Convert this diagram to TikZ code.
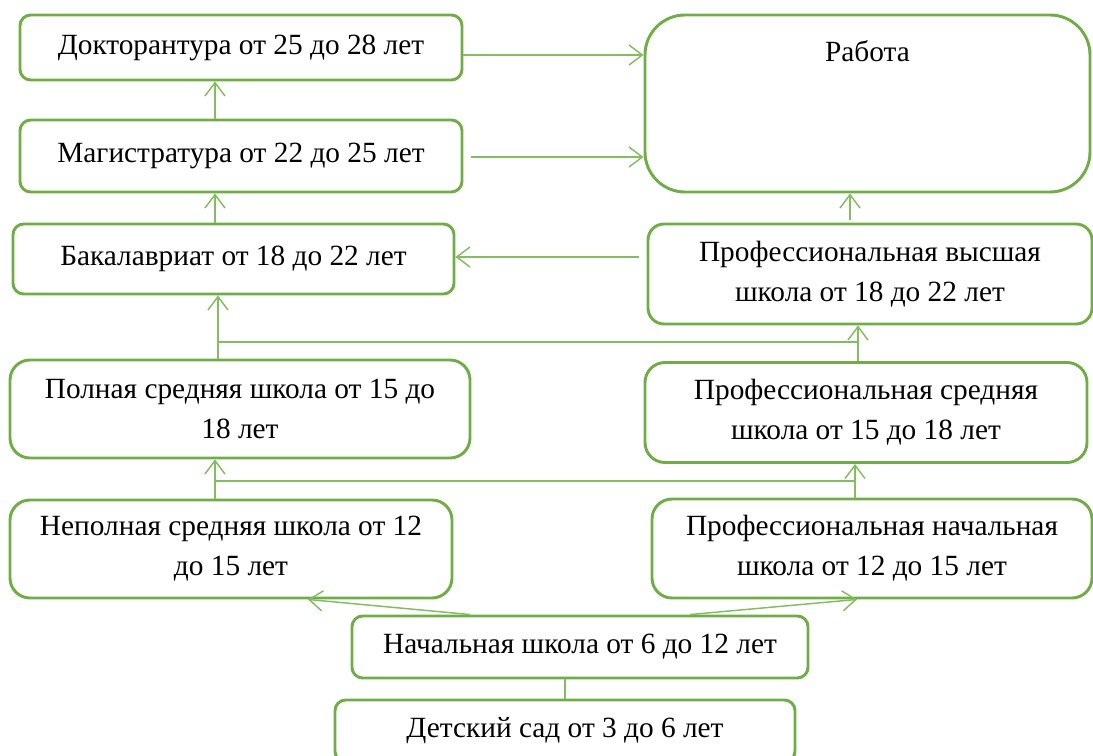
\documentclass[tikz,border=0pt]{standalone}
\usepackage{fontspec}
\setmainfont{Liberation Serif}
\usetikzlibrary{arrows.meta}
\definecolor{boxgreen}{HTML}{70AD47}
\definecolor{linkgreen}{HTML}{82BE5F}
\tikzset{>={Straight Barb[length=10pt,width=15pt]}}
\tikzset{
	box/.style={draw=boxgreen, line width=2.2pt, rounded corners=8pt, align=center, inner sep=0pt, font=\fontsize{22}{30}\selectfont},
	link/.style={draw=linkgreen, line width=1.1pt}
}

\begin{document}
\begin{tikzpicture}[x=0.75pt, y=-0.75pt]
	\useasboundingbox (0,0) rectangle (1093,756);
	% top part
	\node[box, minimum width=331.5pt, minimum height=48.75pt] (dok) at (241,47.5) {Докторантура от 25 до 28 лет};
	\node[box, minimum width=331.5pt, minimum height=54pt] (mag) at (241,156) {Магистратура от 22 до 25 лет};
	\node[box, minimum width=330.75pt, minimum height=52.5pt] (bak) at (233.5,259) {Бакалавриат от 18 до 22 лет};
	\node[box, rounded corners=30pt, minimum width=333.75pt, minimum height=132.75pt,
		label={[anchor=north, inner sep=0pt, yshift=-20pt, font=\fontsize{22}{30}\selectfont]north:Работа}] (rab) at (867.5,103.5) {};
	\node[box, rounded corners=12pt, minimum width=333pt, minimum height=75pt] (pvys) at (870,274) {Профессиональная высшая\\школа от 18 до 22 лет};
	% middle part
	\node[box, rounded corners=15pt, minimum width=345pt, minimum height=73.5pt] (poln) at (240,409) {Полная средняя школа от 15 до\\18 лет};
	\node[box, rounded corners=15pt, minimum width=331.5pt, minimum height=75pt] (pred) at (866,412.5) {Профессиональная средняя\\школа от 15 до 18 лет};
	\node[box, rounded corners=15pt, minimum width=331.5pt, minimum height=73.5pt] (nepol) at (231,549) {Неполная средняя школа от 12\\до 15 лет};
	\node[box, rounded corners=15pt, minimum width=330pt, minimum height=74.25pt] (pnach) at (872,548.5) {Профессиональная начальная\\школа от 12 до 15 лет};
	% bottom part
	\node[box, minimum width=342pt, minimum height=46.5pt] (nach) at (580,647) {Начальная школа от 6 до 12 лет};
	\node[box, minimum width=345pt, minimum height=46.5pt] (det) at (565,731) {Детский сад от 3 до 6 лет};
	\coordinate (j1) at (218,342);
	\coordinate (k1) at (858,342);
	\coordinate (j2) at (215,481);
	\coordinate (k2) at (855,481);

	\draw[link, ->] (dok.east |- 0,55) -- (rab.west |- 0,55);
	\draw[link, ->, shorten <=6pt] (mag.east |- 0,157) -- (rab.west |- 0,157);
	\draw[link, ->] (mag.north -| 215,0) -- (dok.south -| 215,0);
	\draw[link, ->] (bak.north -| 215,0) -- (mag.south -| 215,0);
	\draw[link, ->, shorten <=6pt] (pvys.west |- 0,257) -- (bak.east |- 0,257);
	\draw[link, ->, shorten <=2pt] (pvys.north -| 850,0) -- (rab.south -| 850,0);
	\draw[link, ->] (poln.north -| j1) -- (bak.south -| j1);
	\draw[link] (j1) -- (k1);
	\draw[link, ->] (pred.north -| k1) -- (pvys.south -| k1);
	\draw[link, ->] (nepol.north -| j2) -- (poln.south -| j2);
	\draw[link] (j2) -- (k2);
	\draw[link, ->] (pnach.north -| k2) -- (pred.south -| k2);
	\draw[link, ->] (nach.north -| 470,0) -- (nepol.south -| 308,0);
	\draw[link, ->] (nach.north -| 690,0) -- (pnach.south -| 857,0);
	\draw[link] (det.north -| 565,0) -- (nach.south -| 565,0);
\end{tikzpicture}
\end{document}
